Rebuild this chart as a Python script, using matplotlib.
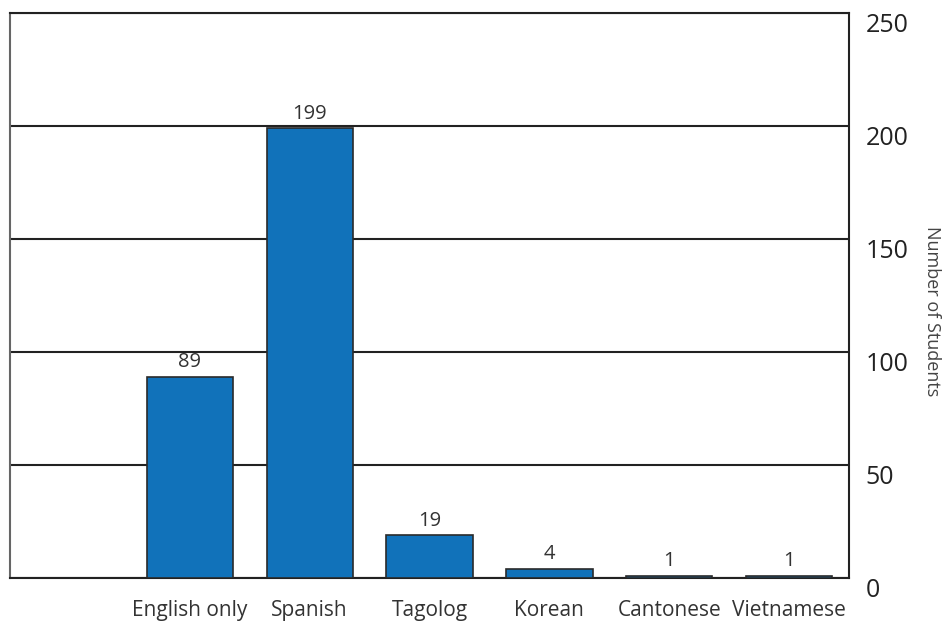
import matplotlib.pyplot as plt

languages = ["English only", "Spanish", "Tagolog", "Korean", "Cantonese", "Vietnamese"]
students = [89, 199, 19, 4, 1, 1]
y_ticks = [0, 50, 100, 150, 200, 250]

plt.rcParams['font.family'] = ['Open Sans', 'DejaVu Sans']

fig = plt.figure(figsize=(9.45, 6.22), dpi=100)
ax = fig.add_axes([0.0106, 0.0707, 0.8878, 0.9083])

# first slot left empty, bars in slots 1..6
xpos = [i + 1 for i in range(len(languages))]
ax.bar(xpos, students, width=0.72, color="#1172BA", edgecolor="#2a2a2a",
       linewidth=1.2, zorder=3)

for x, v in zip(xpos, students):
    ax.text(x, v + 2, str(v), ha="center", va="bottom", fontsize=14.5, color="#333333")

ax.set_xlim(-0.5, 6.5)
ax.set_ylim(0, 250)
ax.set_xticks(xpos)
ax.set_xticklabels(languages, fontsize=15, color="#333333")
ax.tick_params(axis="x", length=0, pad=16)

ax.yaxis.tick_right()
ax.set_yticks(y_ticks)
ax.set_yticklabels([str(t) for t in y_ticks], fontsize=18, color="#222222", va="top")
ax.tick_params(axis="y", length=0, pad=12)

fig.text(0.986, 0.5, "Number of Students", rotation=-90, fontsize=13,
         color="#444444", ha="center", va="center")

ax.grid(axis="y", color="#222222", linewidth=1.5, zorder=0)
ax.spines["left"].set_color("#666666")
ax.spines["left"].set_linewidth(1.5)
for s in ["top", "right", "bottom"]:
    ax.spines[s].set_color("#222222")
    ax.spines[s].set_linewidth(1.5)

plt.savefig("out.png", dpi=100)
